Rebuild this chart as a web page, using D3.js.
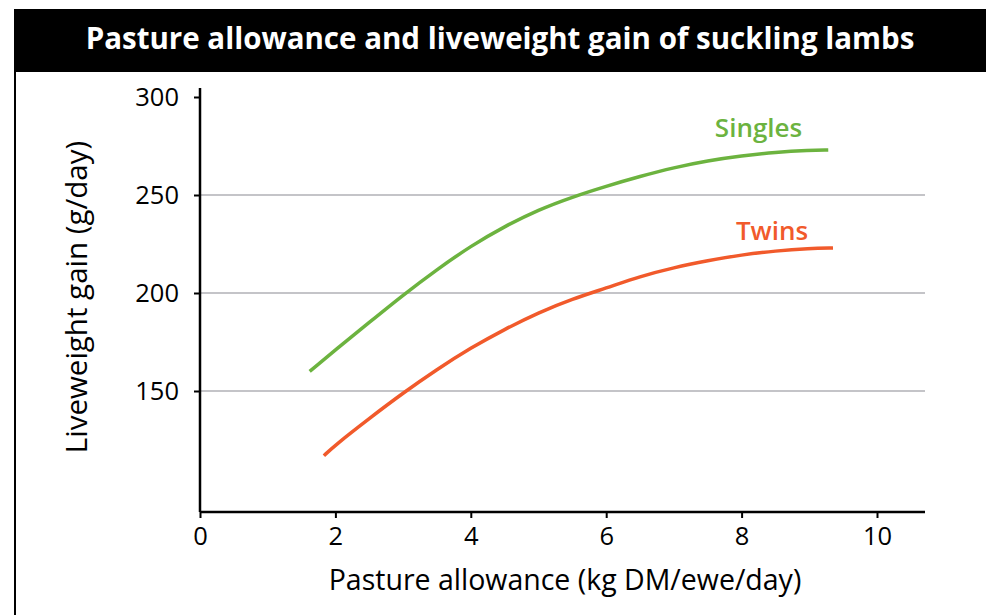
<!DOCTYPE html>
<html><head><meta charset="utf-8">
<script src="https://cdn.jsdelivr.net/npm/d3@7"></script>
<style>html,body{margin:0;padding:0;background:#fff;}svg{display:block;}</style>
</head><body>
<svg id="c" width="986" height="615"></svg>
<script>
const title = "Pasture allowance and liveweight gain of suckling lambs";
const xLabel = "Pasture allowance (kg DM/ewe/day)";
const yLabel = "Liveweight gain (g/day)";
const xTicks = [0, 2, 4, 6, 8, 10];
const yTicks = [150, 200, 250, 300];
const gridValues = [150, 200, 250];
const seriesNames = ["Singles", "Twins"];
const singlesX = [1.62, 2.0, 2.5, 3.0, 3.5, 4.0, 4.5, 5.0, 5.5, 6.0, 6.5, 7.0, 7.5, 8.0, 8.5, 9.0, 9.28];
const singlesY = [160, 171, 185, 199, 212, 224, 234, 242.5, 249, 254.5, 259.5, 264, 267.5, 270, 271.8, 272.8, 273];
const twinsX = [1.83, 2.0, 2.5, 3.0, 3.5, 4.0, 4.5, 5.0, 5.5, 6.0, 6.5, 7.0, 7.5, 8.0, 8.5, 9.0, 9.35];
const twinsY = [117, 122.5, 136, 149, 161, 172, 181.5, 190, 197, 202.5, 208.5, 213, 216.5, 219.5, 221.5, 222.7, 223];

const svg = d3.select("#c");
const font = "'Open Sans', sans-serif";
const green = "#6cb33f", orange = "#f15a2b";

// frame
svg.append("rect").attr("x", 15).attr("y", 10).attr("width", 1000).attr("height", 700)
  .attr("fill", "none").attr("stroke", "#000").attr("stroke-width", 2);
svg.append("rect").attr("x", 14).attr("y", 9).attr("width", 980).attr("height", 63).attr("fill", "#000");
svg.append("text").attr("x", 500).attr("y", 49).attr("text-anchor", "middle")
  .attr("fill", "#fff").attr("font-family", font).attr("font-weight", "bold").attr("font-size", 29.5)
  .text(title);

const x = d3.scaleLinear().domain([0, 10]).range([200, 877]);
const y = d3.scaleLinear().domain([150, 300]).range([391, 97]);
const xEnd = 925, yBottom = 512, yTop = 88;

// grid
svg.append("g").selectAll("line").data(gridValues).join("line")
  .attr("x1", 200).attr("x2", xEnd).attr("y1", d => y(d)).attr("y2", d => y(d))
  .attr("stroke", "#b0b0b6").attr("stroke-width", 1.5);

// axes
const xAxis = svg.append("g").attr("transform", `translate(0,${yBottom})`)
  .call(d3.axisBottom(x).tickValues(xTicks).tickSize(6).tickSizeOuter(0).tickPadding(9));
xAxis.select(".domain").attr("d", `M200,0H${xEnd}`);
const yAxis = svg.append("g").attr("transform", `translate(200,0)`)
  .call(d3.axisLeft(y).tickValues(yTicks).tickSize(6).tickSizeOuter(0).tickPadding(15));
yAxis.select(".domain").attr("d", `M0,${yTop}V${yBottom}`);
[xAxis, yAxis].forEach(g => {
  g.select(".domain").attr("stroke", "#000").attr("stroke-width", 2.5);
  g.selectAll(".tick line").attr("stroke", "#000").attr("stroke-width", 2);
  g.selectAll(".tick text").attr("font-family", font).attr("font-size", 25.5).attr("fill", "#000");
});

// labels
svg.append("text").attr("x", 565).attr("y", 590).attr("text-anchor", "middle")
  .attr("font-family", font).attr("font-size", 28.5).attr("fill", "#000").text(xLabel);
svg.append("text").attr("transform", "translate(87,297) rotate(-90)").attr("text-anchor", "middle")
  .attr("font-family", font).attr("font-size", 29.5).attr("fill", "#000").text(yLabel);

// lines
const line = d3.line().x(d => x(d[0])).y(d => y(d[1])).curve(d3.curveBasis);
const sData = singlesX.map((v, i) => [v, singlesY[i]]);
const tData = twinsX.map((v, i) => [v, twinsY[i]]);
svg.append("path").attr("d", line(sData)).attr("fill", "none").attr("stroke", green).attr("stroke-width", 3.5);
svg.append("path").attr("d", line(tData)).attr("fill", "none").attr("stroke", orange).attr("stroke-width", 3.5);

svg.append("text").attr("x", x(8.25)).attr("y", 137).attr("text-anchor", "middle")
  .attr("font-family", font).attr("font-weight", 600).attr("font-size", 26).attr("fill", green).text(seriesNames[0]);
svg.append("text").attr("x", x(8.45)).attr("y", 240).attr("text-anchor", "middle")
  .attr("font-family", font).attr("font-weight", 600).attr("font-size", 26).attr("fill", orange).text(seriesNames[1]);
</script>
</body></html>
